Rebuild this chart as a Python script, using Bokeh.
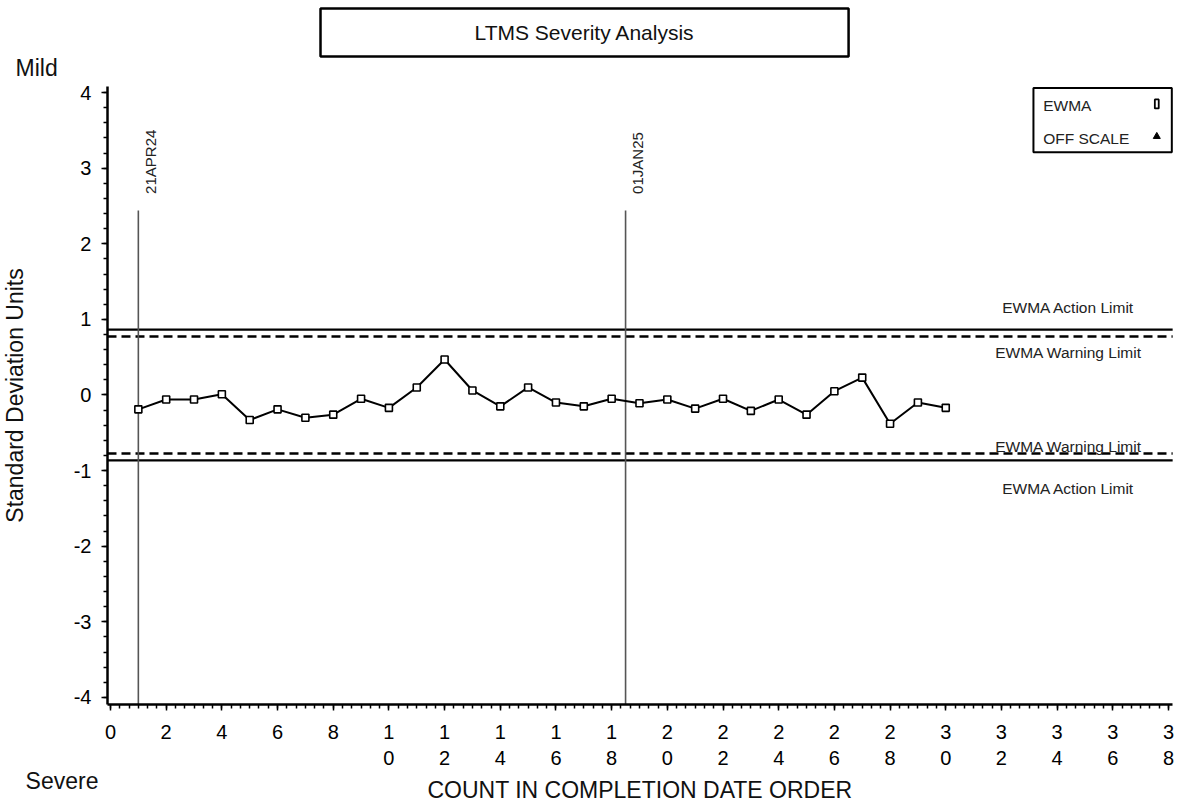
from bokeh.plotting import figure
from bokeh.models import Range1d, FixedTicker, ColumnDataSource
from bokeh.core.properties import value
from bokeh.embed import file_html
from bokeh.resources import INLINE
import numpy as np

# EWMA severity values in completion-date order
counts = list(range(1, 31))
ewma = [-0.19, -0.06, -0.06, 0.01, -0.33, -0.19, -0.30, -0.26, -0.05, -0.17,
        0.10, 0.47, 0.06, -0.15, 0.10, -0.10, -0.15, -0.05, -0.11, -0.06,
        -0.18, -0.05, -0.21, -0.06, -0.26, 0.05, 0.23, -0.38, -0.10, -0.17]

# control limits (lambda = 0.2)
action_limit = 0.866
warning_limit = 0.775

# date markers
event_x = [1, 18.5]
event_labels = ["21APR24", "01JAN25"]
event_top = 2.44

x_ticks = list(range(0, 39, 2))
y_ticks = list(range(-4, 5))

FONT = "Liberation Sans"

# chart extent in data units (axes sit at the lower-left corner of it)
X_MIN, X_MAX = -0.108, 38.15
Y_MIN, Y_MAX = -4.094, 4.08

# the frame fills the whole canvas; axes are pinned inside it
p = figure(width=1178, height=802, output_backend="svg", toolbar_location=None,
           x_range=Range1d(-3.951, 38.36), y_range=Range1d(-5.390, 5.218),
           min_border=0, min_border_left=0, min_border_right=0,
           min_border_top=0, min_border_bottom=0)
p.outline_line_color = None
p.xgrid.visible = False
p.ygrid.visible = False
p.background_fill_color = "white"
p.border_fill_color = "white"

for ax in (p.xaxis[0], p.yaxis[0]):
    ax.axis_line_width = 2.5
    ax.axis_line_color = "black"
    ax.major_tick_line_color = "black"
    ax.minor_tick_line_color = "black"
    ax.major_tick_line_width = 1.5
    ax.minor_tick_line_width = 1.5
    ax.major_tick_in = 0
    ax.minor_tick_in = 0
    ax.major_tick_out = 6
    ax.minor_tick_out = 4
    ax.major_label_text_font = FONT
    ax.major_label_text_font_size = "20px"
    ax.major_label_text_color = "black"
    ax.axis_label_text_font = FONT
    ax.axis_label_text_font_style = "normal"
    ax.axis_label_text_color = "#111111"
    ax.axis_label_text_font_size = "23px"

xa = p.xaxis[0]
xa.fixed_location = Y_MIN
xa.bounds = (X_MIN, X_MAX)
xa.ticker = FixedTicker(ticks=x_ticks,
                        minor_ticks=list(np.arange(0, 38.01, 1 / 3)))
xa.major_label_overrides = {t: "\n".join(str(t)) for t in x_ticks}
xa.major_label_standoff = 10
xa.axis_label = "COUNT IN COMPLETION DATE ORDER"
xa.axis_label_standoff = 5

ya = p.yaxis[0]
ya.fixed_location = X_MIN
ya.bounds = (Y_MIN, Y_MAX)
ya.ticker = FixedTicker(ticks=y_ticks,
                        minor_ticks=list(np.arange(-4, 4.01, 0.2)))
ya.major_label_overrides = {t: str(t) for t in y_ticks}
ya.major_label_standoff = 10
ya.axis_label = "Standard Deviation Units"
ya.axis_label_standoff = 43

# limit lines
for lim in (action_limit, -action_limit):
    p.line(x=[X_MIN, X_MAX], y=[lim, lim], line_color="black", line_width=2.2)
for lim in (warning_limit, -warning_limit):
    p.line(x=[X_MIN, X_MAX], y=[lim, lim], line_color="black", line_width=2.5,
           line_dash="9 5")

limit_texts = ["EWMA Action Limit", "EWMA Warning Limit",
               "EWMA Warning Limit", "EWMA Action Limit"]
limit_text_y = [action_limit + 0.29, warning_limit - 0.21,
                -warning_limit + 0.095, -action_limit - 0.37]
p.text(x=[34.41] * 4, y=limit_text_y, text=limit_texts,
       text_font=value(FONT), text_font_size="15.5px", text_color="#222222",
       text_align="center", text_baseline="middle")

# date marker lines
p.segment(x0=event_x, y0=[event_top] * 2, x1=event_x, y1=[Y_MIN] * 2,
          line_color="#555555", line_width=1.6)
p.text(x=[x + 0.44 for x in event_x], y=[event_top + 0.22] * 2, text=event_labels,
       angle=np.pi / 2, text_font=value(FONT), text_font_size="15px",
       text_color="#222222", text_align="left", text_baseline="middle")

# EWMA series
src = ColumnDataSource(dict(x=counts, y=ewma))
p.line("x", "y", source=src, line_color="black", line_width=2)
p.scatter("x", "y", source=src, marker="square", size=7, fill_color="white",
          line_color="black", line_width=1.6)

# key box
p.quad(left=[33.15], right=[38.12], top=[4.06], bottom=[3.21],
       fill_color="white", line_color="black", line_width=2)
p.text(x=[33.5, 33.5], y=[3.83, 3.39], text=["EWMA", "OFF SCALE"],
       text_font=value(FONT), text_font_size="15.5px", text_color="#222222",
       text_align="left", text_baseline="middle")
p.rect(x=[37.58], y=[3.85], width=0.14, height=0.12, fill_color="white",
       line_color="black", line_width=1.8)
p.scatter(x=[37.58], y=[3.42], marker="triangle", size=7, fill_color="black",
          line_color="black")

# title box
p.quad(left=[7.543], right=[26.51], top=[5.112], bottom=[4.478],
       fill_color="white", line_color="black", line_width=2.5)
p.text(x=[17.03], y=[4.795], text=["LTMS Severity Analysis"],
       text_font=value(FONT), text_font_size="21px", text_color="#111111",
       text_align="center", text_baseline="middle")

# scale direction captions
p.text(x=[-3.41, -3.05], y=[4.33, -5.10], text=["Mild", "Severe"],
       text_font=value(FONT), text_font_size="23px", text_color="#111111",
       text_align="left", text_baseline="middle")

open("out.html", "w").write(file_html(p, INLINE))
